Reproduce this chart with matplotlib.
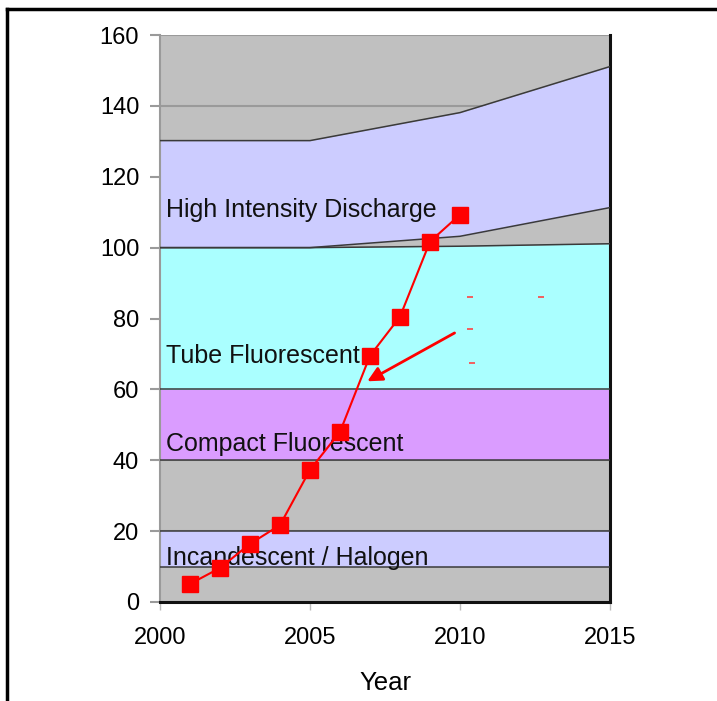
import matplotlib.pyplot as plt
from matplotlib.lines import Line2D

plt.rcParams['font.family'] = ['Liberation Sans', 'DejaVu Sans']

years = [2000, 2005, 2010, 2015]
# boundaries of the stacked bands (top edge of each layer)
halogen_low = [10, 10, 10, 10]
halogen_top = [20, 20, 20, 20]
cfl_low = [40, 40, 40, 40]
cfl_top = [60, 60, 60, 60]
tube_top = [100, 100, 100.4, 101.1]
hid_low = [100, 100, 103.2, 111.3]
hid_top = [130.2, 130.2, 138.1, 151.1]

sales_years = [2001, 2002, 2003, 2004, 2005, 2006, 2007, 2008, 2009, 2010]
sales = [5.1, 9.6, 16.4, 21.7, 37.3, 48.0, 69.5, 80.5, 101.7, 109.3]

band_labels = ["High Intensity Discharge", "Tube Fluorescent",
               "Compact Fluorescent", "Incandescent / Halogen"]
label_y = [110.5, 69.5, 44.5, 12.5]

# leftover red specks in the original picture
speck_x = [2010.35, 2012.7, 2010.35, 2010.4]
speck_y = [86.2, 86.2, 76.9, 67.4]

fig = plt.figure(figsize=(7.17, 7.01), dpi=100)
ax = fig.add_axes([160 / 717, 99 / 701, 450 / 717, 567 / 701])

ax.set_facecolor('#c0c0c0')
ax.set_xlim(2000, 2015)
ax.set_ylim(0, 160)
ax.set_yticks(range(0, 161, 20))
ax.set_xticks([2000, 2005, 2010, 2015])
ax.yaxis.grid(True, color='#9a9a9a', linewidth=1.5)
ax.set_axisbelow(True)

edge = '#3a3a3a'
ax.fill_between(years, halogen_low, halogen_top, color='#ccccff', lw=0, zorder=2)
ax.fill_between(years, cfl_low, cfl_top, color='#da9cff', lw=0, zorder=2)
ax.fill_between(years, cfl_top, tube_top, color='#aaffff', lw=0, zorder=2)
ax.fill_between(years, hid_low, hid_top, color='#ccccff', lw=0, zorder=2)
for b in [halogen_low, halogen_top, cfl_low, cfl_top, tube_top, hid_low, hid_top]:
    ax.plot(years, b, color=edge, lw=1.1, zorder=3)

for txt, yy in zip(band_labels, label_y):
    ax.text(2000.2, yy, txt, fontsize=18, color='#111111', va='center', ha='left', zorder=4)

ax.plot(sales_years, sales, color='#ff0000', lw=1.5, marker='s', markersize=11.5,
        markerfacecolor='#ff0000', markeredgecolor='#ff0000', zorder=5)

ax.annotate('', xy=(2006.83, 61.9), xytext=(2009.9, 76.3),
            arrowprops=dict(arrowstyle='-|>', color='#ff0000', lw=2,
                            mutation_scale=22), zorder=6)
ax.plot(speck_x, speck_y, ls='none', marker='_', markersize=5, color='#ff4444',
        markeredgewidth=1.2, zorder=5)

ax.spines['top'].set_visible(False)
ax.spines['left'].set_color('#9a9a9a')
ax.spines['left'].set_linewidth(1.5)
ax.spines['right'].set_color('#111111')
ax.spines['right'].set_linewidth(2.2)
ax.spines['bottom'].set_color('#111111')
ax.spines['bottom'].set_linewidth(2.2)
ax.spines['bottom'].set_zorder(7)

ax.tick_params(axis='y', labelsize=17, length=7, width=1.5, color='#9a9a9a', pad=8)
ax.tick_params(axis='x', labelsize=17, length=6, width=1, color='#bbbbbb', pad=12)
ax.set_xlabel('Year', fontsize=18.5, labelpad=16)

# frame lines of the original picture (top and left only)
fig.add_artist(Line2D([7 / 717, 1], [1 - 9 / 701, 1 - 9 / 701], color='black', lw=2.5))
fig.add_artist(Line2D([7 / 717, 7 / 717], [0, 1 - 9 / 701], color='black', lw=2.5))

fig.savefig('out.png', dpi=100)
